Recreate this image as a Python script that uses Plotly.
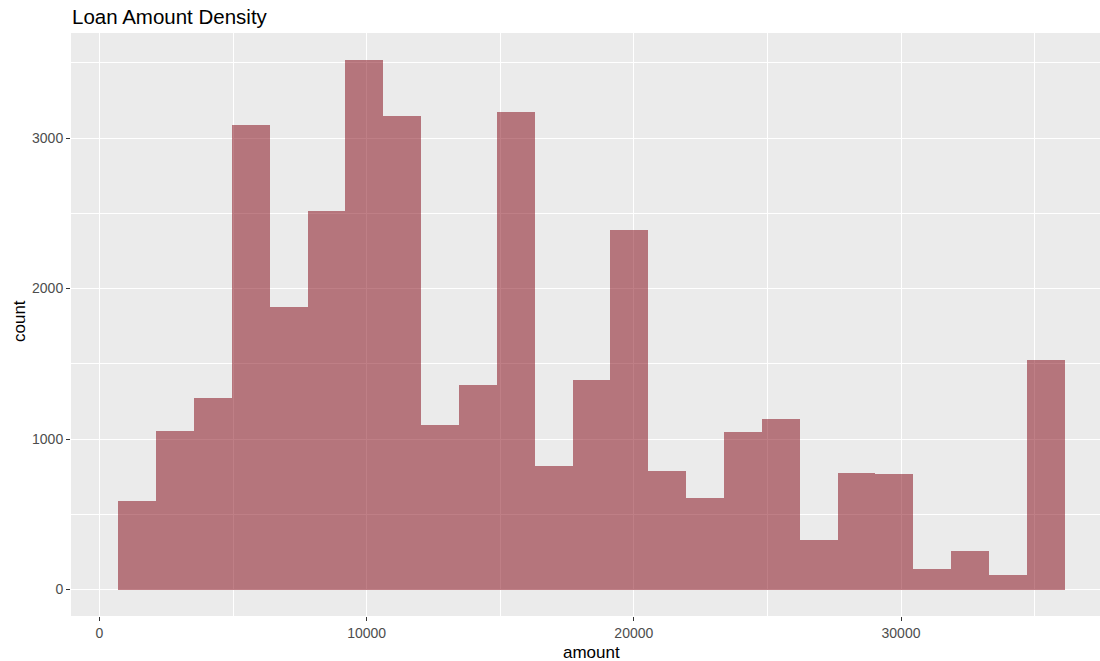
import plotly.graph_objects as go

# Histogram of loan amounts (25 bins)
BIN_START = 708.33
BIN_WIDTH = 1416.67
counts = [586, 1052, 1270, 3087, 1880, 2512, 3522, 3149, 1094, 1356,
          3174, 821, 1394, 2388, 786, 610, 1045, 1136, 331, 772,
          766, 138, 253, 98, 1527]
x_ticks = [0, 10000, 20000, 30000]
y_ticks = [0, 1000, 2000, 3000]

centers = [BIN_START + BIN_WIDTH * (i + 0.5) for i in range(len(counts))]

fig = go.Figure()
fig.add_trace(go.Bar(
    x=centers, y=counts, width=[BIN_WIDTH] * len(counts),
    marker=dict(color="rgba(128,0,13,0.5)", line=dict(width=0)),
    hoverinfo="x+y", showlegend=False,
))

W, H = 1100, 661
L, T, B = 71, 33, 661 - 616

lo = BIN_START
hi = BIN_START + BIN_WIDTH * len(counts)
span = hi - lo
x_lo = lo - 0.05 * span
x_hi_full = hi + 0.05 * span
# panel is cropped on the right edge of the image
px_per_unit = (1112.0 - 71.0) / (x_hi_full - x_lo)
x_hi = x_lo + (1100.0 - 71.0) / px_per_unit

ymax = max(counts)
FONT = "Liberation Sans, Arial, sans-serif"
tickfont = dict(family=FONT, size=14, color="#4D4D4D")

fig.update_layout(
    width=W, height=H,
    margin=dict(l=L, r=0, t=T, b=B, pad=0),
    paper_bgcolor="white", plot_bgcolor="#EBEBEB",
    bargap=0,
    font=dict(family=FONT),
    title=dict(text="Loan Amount Density", x=72 / W, xanchor="left",
               xref="container", yref="container", y=1 - 17 / H, yanchor="middle",
               font=dict(size=20.5, color="black", family=FONT)),
    xaxis=dict(range=[x_lo, x_hi], tickvals=x_ticks, ticktext=[str(v) for v in x_ticks],
               showgrid=True, gridcolor="white", gridwidth=1.1, zeroline=False,
               ticks="outside", ticklen=4, tickwidth=1, tickcolor="#333333",
               tickfont=tickfont, showline=False,
               minor=dict(dtick=5000, tick0=0, showgrid=True, gridcolor="white",
                          gridwidth=0.55, ticks="")),
    yaxis=dict(range=[-0.05 * ymax, 1.05 * ymax], tickvals=y_ticks,
               ticktext=[str(v) for v in y_ticks],
               showgrid=True, gridcolor="white", gridwidth=1.1, zeroline=False,
               ticks="outside", ticklen=4, tickwidth=1, tickcolor="#333333",
               tickfont=tickfont, showline=False,
               minor=dict(dtick=500, tick0=0, showgrid=True, gridcolor="white",
                          gridwidth=0.55, ticks="")),
    annotations=[
        dict(text="amount", xref="paper", yref="paper",
             x=(591 - 71) / 1029, y=-(653 - 616) / 583, xanchor="center", yanchor="middle",
             showarrow=False, font=dict(size=17, color="black", family=FONT)),
        dict(text="count", xref="paper", yref="paper",
             x=-(71 - 20) / 1029, y=(616 - 321) / 583, xanchor="center", yanchor="middle",
             textangle=-90, showarrow=False, font=dict(size=17, color="black", family=FONT)),
    ],
)

# remove the default 8px page margin so the figure fills the window exactly
fig.write_html("out.html",
               config={"displayModeBar": False},
               post_script="document.body.style.margin='0';document.body.style.overflow='hidden';")
